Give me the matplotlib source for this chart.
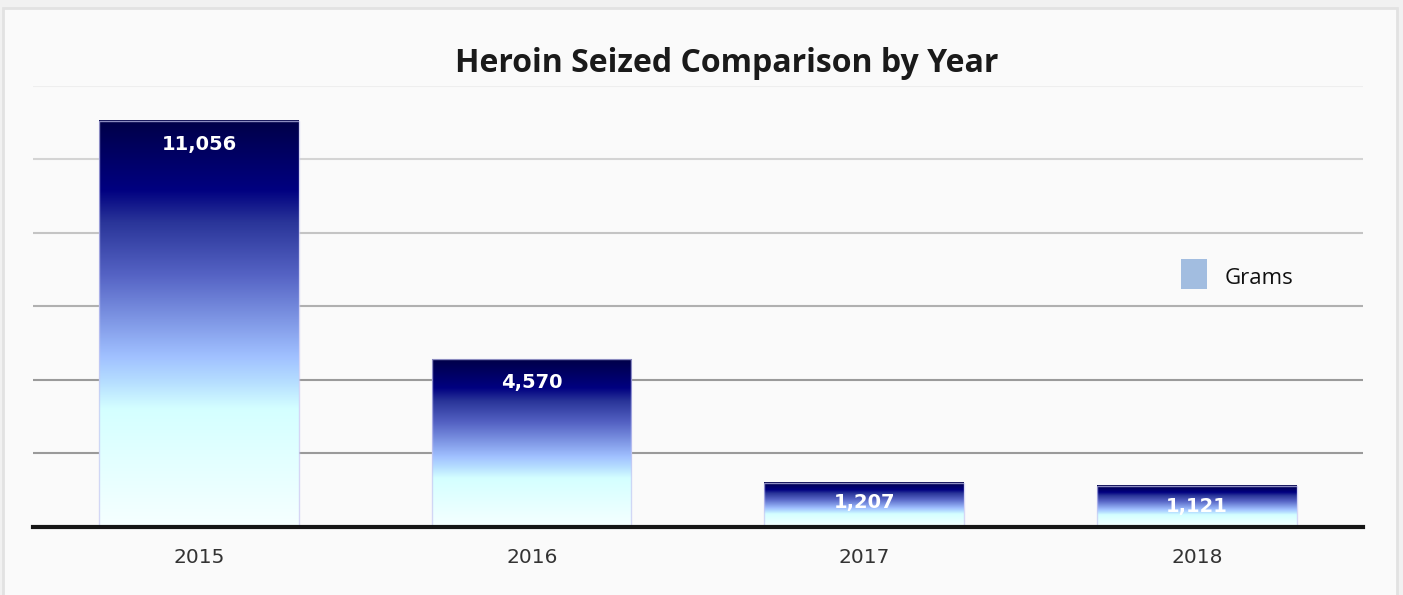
import numpy as np
import matplotlib.pyplot as plt
from matplotlib.colors import LinearSegmentedColormap
from matplotlib.patches import Rectangle

years = ['2015', '2016', '2017', '2018']
grams = [11056, 4570, 1207, 1121]
labels = ['11,056', '4,570', '1,207', '1,121']

cmap = LinearSegmentedColormap.from_list('bar', [
    (0.00, '#f6ffff'), (0.29, '#d4ffff'), (0.36, '#b4dcff'), (0.42, '#a0c0ff'),
    (0.62, '#5563c4'), (0.75, '#2a3599'), (0.83, '#000080'), (1.00, '#000048')])

fig = plt.figure(figsize=(14.03, 5.95), dpi=100)
fig.patch.set_facecolor('#f1f1f1')
fig.patches.append(Rectangle((0.002, -0.01), 0.994, 0.997, transform=fig.transFigure,
                             facecolor='#fafafa', edgecolor='#e2e2e2', lw=2, zorder=-1))

ax = fig.add_axes([0.0235, 0.1143, 0.948, 0.7412])
ax.set_facecolor('none')
ax.set_xlim(-0.5, 3.5)
ax.set_ylim(0, 12000)

grid_cols = ['#9a9a9a', '#9a9a9a', '#b0b0b0', '#c4c4c4', '#d4d4d4', '#eeeeee']
for v, c in zip(range(2000, 12001, 2000), grid_cols):
    ax.axhline(v, color=c, lw=1.5, zorder=1)

grad = np.linspace(0, 1, 256).reshape(-1, 1)
w = 0.6
for i, (g, lab) in enumerate(zip(grams, labels)):
    ax.imshow(grad, extent=[i - w / 2, i + w / 2, 0, g], origin='lower',
              aspect='auto', cmap=cmap, zorder=2)
    ax.add_patch(Rectangle((i - w / 2, 0), w, g, facecolor='none',
                           edgecolor=(0.78, 0.78, 0.95, 0.7), lw=1, zorder=3))
    off = 650 if g > 3000 else 550
    ax.text(i, g - off, lab, ha='center', va='center', color='white',
            fontsize=14, fontweight='bold', family='DejaVu Sans', zorder=4)

ax.axhline(0, color='#151515', lw=3, zorder=5, clip_on=False)
ax.set_xticks(range(len(years)))
ax.set_xticklabels(years, fontsize=14.5, color='#333333')
ax.tick_params(axis='x', length=0, pad=15)
ax.set_yticks([])
for s in ax.spines.values():
    s.set_visible(False)

fig.text(0.518, 0.893, 'Heroin Seized Comparison by Year', ha='center', va='center',
         fontsize=23, fontweight='bold', family='Open Sans', color='#1a1a1a')

# legend
fig.patches.append(Rectangle((1181 / 1403, 1 - 289 / 595), 26 / 1403, 30 / 595,
                             transform=fig.transFigure, facecolor='#a2bde0',
                             edgecolor='none', zorder=3))
fig.text(1225 / 1403, 1 - 279 / 595, 'Grams', ha='left', va='center',
         fontsize=16, family='Open Sans', color='#111111')

fig.savefig('out.png', dpi=100)
